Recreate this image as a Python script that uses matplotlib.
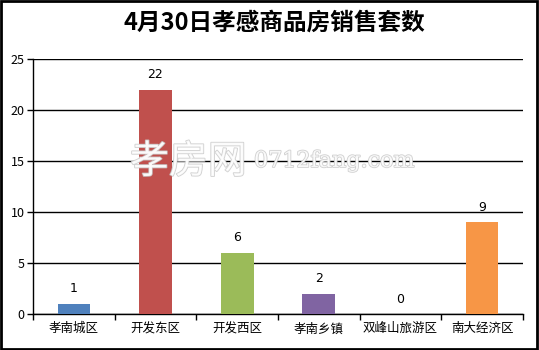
import matplotlib
matplotlib.use("Agg")
import matplotlib.pyplot as plt
import matplotlib.patheffects as pe
from matplotlib.patches import Rectangle
import numpy as np

plt.rcParams['font.family'] = ['Noto Sans CJK SC', 'DejaVu Sans']

# データ
districts = ["孝南城区", "开发东区", "开发西区", "孝南乡镇", "双峰山旅游区", "南大经济区"]
sales = [1, 22, 6, 2, 0, 9]
bar_colors = ["#4F81BD", "#C0504D", "#9BBB59", "#8064A2", "#4BACC6", "#F79646"]
title = "4月30日孝感商品房销售套数"

fig = plt.figure(figsize=(5.39, 3.5), dpi=100)
ax = fig.add_axes([33 / 539, 1 - 314 / 350, 490 / 539, 255 / 350])

x = np.arange(len(districts))
ax.bar(x, sales, width=0.4, color=bar_colors, zorder=3)

for xi, v in zip(x, sales):
    ax.annotate(str(v), (xi, v), xytext=(0, 6), textcoords="offset points",
                ha="center", va="bottom", fontsize=9, family=["DejaVu Sans"])

ax.set_xlim(-0.5, len(districts) - 0.5)
ax.set_ylim(0, 25)
ax.set_yticks(range(0, 26, 5))
ax.yaxis.grid(True, color="black", linewidth=1, zorder=0)
ax.set_axisbelow(True)

# x軸: ラベルは中央、目盛りは境界
ax.set_xticks(x)
ax.set_xticklabels(districts, fontsize=9)
ax.tick_params(axis="x", length=0, pad=6)
ax.set_xticks(np.arange(-0.5, len(districts)), minor=True)
ax.tick_params(axis="x", which="minor", length=4, width=1, color="black")
ax.tick_params(axis="y", length=4, width=1, labelsize=9, pad=2)

for s in ["top", "right"]:
    ax.spines[s].set_visible(False)
ax.spines["left"].set_linewidth(1)
ax.spines["bottom"].set_linewidth(1)

fig.text(274 / 539, 1 - 23 / 350, title, ha="center", va="center",
         fontsize=17, fontweight="bold")

# 透かし
wm = [pe.withStroke(linewidth=1.2, foreground="#c8c8c8")]
fig.text(130 / 539, 1 - 162 / 350, "孝房网", ha="left", va="center",
         fontsize=28, color="white", alpha=0.85, path_effects=wm, zorder=5)
fig.text(254 / 539, 1 - 161 / 350, "0712fang.com", ha="left", va="center",
         fontsize=16, color="white", alpha=0.85, family=["DejaVu Serif"],
         path_effects=wm, zorder=5)

# 枠線
fig.patches.append(Rectangle((0.001, 0.003), 0.996, 0.995, transform=fig.transFigure,
                             fill=False, edgecolor="black", linewidth=2))

plt.savefig("out.png", dpi=100)
